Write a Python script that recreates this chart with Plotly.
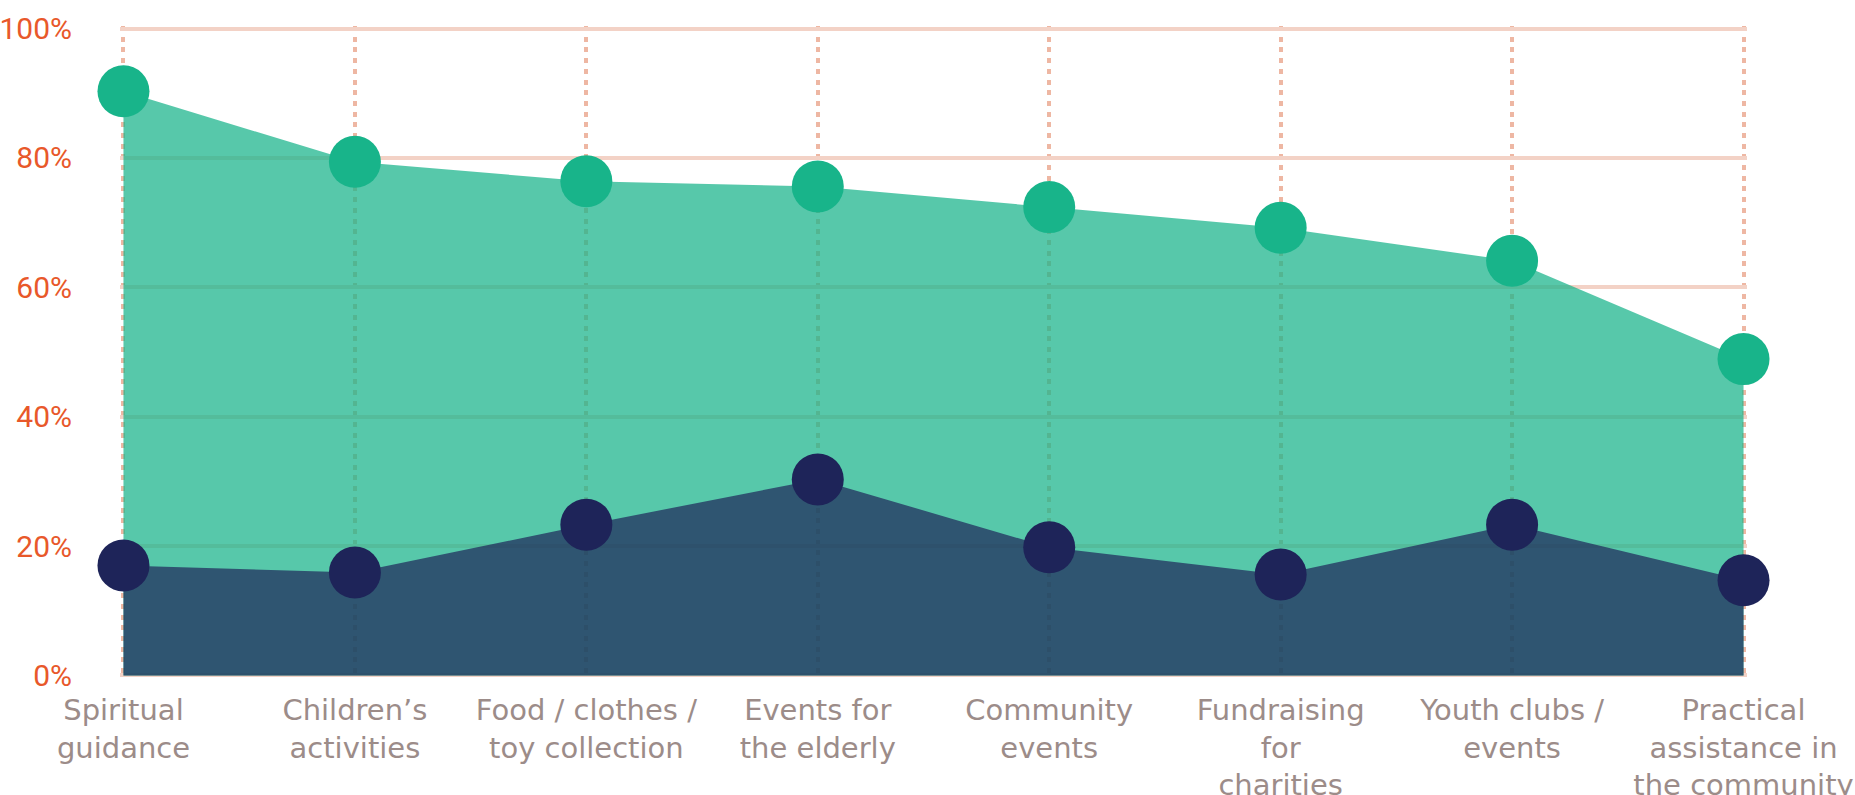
import plotly.graph_objects as go

# Share of respondents per activity (percent)
categories = [
    "Spiritual<br>guidance",
    "Children’s<br>activities",
    "Food / clothes /<br>toy collection",
    "Events for<br>the elderly",
    "Community<br>events",
    "Fundraising<br>for<br>charities",
    "Youth clubs /<br>events",
    "Practical<br>assistance in<br>the community",
]
upper_values = [90.3, 79.4, 76.4, 75.6, 72.4, 69.2, 64.1, 48.9]
lower_values = [17.0, 15.9, 23.3, 30.3, 19.8, 15.6, 23.3, 14.7]

y_tick_vals = [0, 20, 40, 60, 80, 100]
y_tick_text = ["0%", "20%", "40%", "60%", "80%", "100%"]

teal = "rgb(24,180,138)"
navy = "rgb(30,36,89)"

x_idx = list(range(len(categories)))

# small padding so the outermost grid lines are not dropped at the plot edges
x_pad = 0.015
y_pad = 0.4

fig = go.Figure()

# Filled areas (semi-transparent so the grid shows through)
fig.add_trace(go.Scatter(
    x=x_idx, y=upper_values, mode="lines", fill="tozeroy",
    line=dict(width=0, color=teal), fillcolor="rgba(24,180,138,0.73)",
    cliponaxis=False, hoverinfo="skip", showlegend=False,
))
fig.add_trace(go.Scatter(
    x=x_idx, y=lower_values, mode="lines", fill="tozeroy",
    line=dict(width=0, color=navy), fillcolor="rgba(30,36,89,0.70)",
    cliponaxis=False, hoverinfo="skip", showlegend=False,
))

# Point markers
fig.add_trace(go.Scatter(
    x=x_idx, y=upper_values, mode="markers",
    marker=dict(size=52, color=teal, line=dict(width=0)),
    cliponaxis=False, showlegend=False,
))
fig.add_trace(go.Scatter(
    x=x_idx, y=lower_values, mode="markers",
    marker=dict(size=52, color=navy, line=dict(width=0)),
    cliponaxis=False, showlegend=False,
))

fig.update_layout(
    width=1855, height=795,
    margin=dict(l=120, r=108, t=26, b=117, autoexpand=False),
    paper_bgcolor="white", plot_bgcolor="white",
    xaxis=dict(
        range=[-x_pad, len(categories) - 1 + x_pad],
        tickmode="array", tickvals=x_idx, ticktext=categories,
        showgrid=True, gridcolor="rgb(238,183,163)", gridwidth=4,
        griddash="5px,5.7px",
        zeroline=False, showline=False, ticks="",
        tickfont=dict(family="DejaVu Sans", size=29, color="rgb(156,140,137)"),
        ticklabelstandoff=12,
        automargin=False, fixedrange=True,
    ),
    yaxis=dict(
        range=[-y_pad, 100 + y_pad],
        tickmode="array", tickvals=y_tick_vals, ticktext=y_tick_text,
        showgrid=True, gridcolor="rgb(243,210,198)", gridwidth=4,
        zeroline=False, showline=False, ticks="",
        tickfont=dict(family="Roboto", size=30, color="rgb(232,88,42)"),
        ticklabelstandoff=47,
        automargin=False, fixedrange=True,
    ),
)

fig.write_html("out.html")
